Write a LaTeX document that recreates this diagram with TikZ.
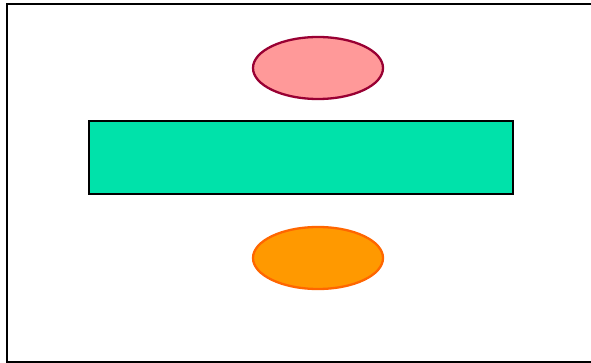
\documentclass[tikz,border=0pt]{standalone}
\usepackage{tikz}
\usetikzlibrary{shapes.geometric}
\definecolor{pinkfill}{RGB}{255,153,153}
\definecolor{pinkline}{RGB}{153,0,51}
\definecolor{orangefill}{RGB}{255,153,0}
\definecolor{orangeline}{RGB}{255,102,0}
\definecolor{greenfill}{RGB}{0,226,170}
\begin{document}
\begin{tikzpicture}[x=1pt,y=-1pt,
  blob/.style={ellipse,line width=2.3pt,minimum width=130pt,minimum height=62pt,inner sep=0pt},
  bar/.style={rectangle,draw=black,fill=greenfill,line width=2.3pt,minimum width=424pt,minimum height=73pt,inner sep=0pt}]
\useasboundingbox (0,0) rectangle (591,363);
\clip (0,0) rectangle (591,363);
\draw[line width=2.2pt] (7,4) rectangle (620,362.5);
\node[blob,draw=pinkline,fill=pinkfill] (top) at (318,68) {};
\node[bar] (middle) at (301,157.5) {};
\node[blob,draw=orangeline,fill=orangefill] (bottom) at (318,258) {};
\end{tikzpicture}
\end{document}
